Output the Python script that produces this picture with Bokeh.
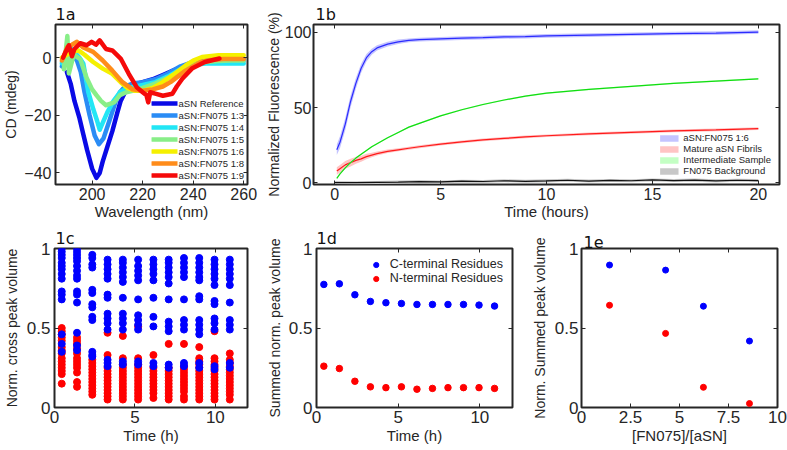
from bokeh.plotting import figure
from bokeh.models import LinearAxis, Legend, LegendItem, FixedTicker, Range1d
from bokeh.layouts import column, row
from bokeh.embed import file_html
from bokeh.resources import INLINE

FONT = "Liberation Sans"
TXT = "#262626"

# ---------------- Panel 1a : CD spectra ----------------
cd_names = ["aSN Reference", "aSN:FN075 1:3", "aSN:FN075 1:4", "aSN:FN075 1:5",
            "aSN:FN075 1:6", "aSN:FN075 1:8", "aSN:FN075 1:9"]
cd_colors = ["#0a0ae6", "#2a8cf5", "#22e6f5", "#88ee88", "#f5f000", "#ff8c1a", "#f50a0a"]
wl_ref = [190, 191.5, 193, 195, 196.5, 198, 200, 201.7, 203, 204.2, 206, 208, 210, 211.3, 213, 215, 218, 220, 224, 228, 232, 236, 240, 245, 250, 255, 260]
cd_ref = [-5, -9, -15, -21, -26.6, -32, -38.5, -41.7, -40, -36, -31, -25.5, -19, -15, -12, -10.5, -9, -8.5, -7.5, -6, -4.5, -3, -2, -1, -0.7, -0.5, -0.5]
wl_13 = [188, 190, 192, 194, 195.5, 197, 199, 201, 202.7, 204.5, 206.8, 209.4, 211, 213, 216, 220, 225, 230, 235, 240, 245, 250, 255, 260]
cd_13 = [-3, 0, 1, -1, -5, -12, -20, -27, -30, -28, -22, -15, -12, -10, -9, -8.5, -7.5, -5.5, -3, -1.5, -1.2, -1, -1, -1]
wl_14 = [188, 189.5, 191, 193, 195, 196.5, 198.5, 200.5, 202, 203, 204, 206, 208.5, 211, 214, 217, 220, 225, 230, 235, 240, 245, 250, 260]
cd_14 = [-2, 2, 4, 2, 0, -2, -12, -18, -22, -25, -23, -19, -15, -12, -10.5, -10, -9.5, -8.5, -6.5, -4, -2.5, -2, -2, -2]
wl_15 = [188.8, 190.2, 190.8, 192.7, 195.3, 197.8, 200, 201.7, 203.5, 205.5, 207, 208.7, 211, 213.5, 216, 220, 225, 230, 235, 240, 245, 250, 255, 260]
cd_15 = [-4, 7.5, -5.5, 1, -0.5, -7, -11, -13, -15, -16.5, -16, -15.5, -13, -12, -11.5, -10.5, -9, -7, -4.5, -2.5, -1.5, -1.2, -1, -1]
wl_16 = [188, 190, 192, 194.6, 197, 200.4, 204.2, 208, 211.3, 214, 217, 220, 224, 228, 232, 237, 240, 243.5, 250, 260]
cd_16 = [0, 1, 2, 2.5, 1, -1.5, -3.8, -5.6, -8.5, -10.5, -11.5, -11.5, -10.5, -8.5, -6, -2.7, -1, 0.2, 0.8, 0.8]
wl_18 = [188, 189, 190.2, 192, 194, 196.5, 200.4, 204.2, 208, 212, 216, 220, 224, 228, 231, 234, 237, 240, 243, 247, 252, 260]
cd_18 = [-1, 1, 3.7, 4.5, 5.5, 3.5, 2, -1, -4.5, -8.5, -11, -11.5, -11, -10, -8.5, -6.5, -4.5, -3, -1.5, -0.8, -0.5, -0.5]
wl_19 = [188.5, 189.5, 190.8, 192, 193, 195.3, 197.8, 199.8, 201.5, 203, 205.5, 208, 211.3, 214.5, 217.7, 220, 221.5, 222.2, 223, 225, 228, 231.8, 233.5, 235.7, 239.5, 244.6, 250.4]
cd_19 = [0, 2, 4.3, 0.5, 3, 5, 4.3, 5.5, 4.5, 6, 3, 2.5, -0.3, -5.6, -10.3, -12, -13, -15.5, -12, -12.5, -13.2, -12.5, -10, -7.3, -3.8, -1.5, -0.3]
cd_x = [wl_ref, wl_13, wl_14, wl_15, wl_16, wl_18, wl_19]
cd_y = [cd_ref, cd_13, cd_14, cd_15, cd_16, cd_18, cd_19]

# ---------------- Panel 1b : fluorescence kinetics ----------------
fl_time = [0.1, 0.25, 0.5, 0.75, 1, 1.25, 1.5, 1.75, 2, 2.5, 3, 3.5, 4, 5, 6, 7, 8, 9, 10, 12, 14, 16, 18, 20]
fl_mix16 = [22, 27, 39, 54, 66, 76, 83, 87, 89.5, 92, 93.5, 94.5, 95, 95.5, 96, 96.3, 96.8, 97, 97.5, 98, 98.5, 99, 99.3, 100]
fl_mix16_err = [3.5, 4, 4, 4, 3.5, 3, 2.5, 2, 1.8, 1.5, 1.5, 1.2, 1.2, 1.2, 1.2, 1.2, 1.2, 1.2, 1.2, 1.2, 1.2, 1.2, 1.2, 1.2]
fl_mature = [8, 9.5, 12, 13.5, 15, 16, 17.5, 18.5, 19.5, 21, 22, 23, 24, 25.8, 27.2, 28.5, 29.5, 30.5, 31.3, 32.5, 33.5, 34.5, 35.2, 36]
fl_mature_err = [2.5, 2.5, 2.5, 2.5, 2.2, 2, 1.8, 1.5, 1.3, 1.2, 1, 1, 1, 0.9, 0.9, 0.9, 0.9, 0.9, 0.9, 0.9, 0.9, 0.9, 0.9, 0.9]
fl_inter = [3, 6, 10, 13.5, 16.5, 19, 21.5, 24, 26, 30, 33.5, 37, 39.5, 44.5, 48.5, 52, 55, 57.5, 59.5, 62, 64, 66, 67.5, 69]
fl_inter_err = [0.5] * 24
bg_time = [0, 1, 2, 3, 4, 5, 6, 7, 8, 9, 10, 11, 12, 13, 14, 15, 16, 17, 18, 19, 20]
bg_vals = [0.3, 0.2, 0.4, 0.6, 0.9, 0.7, 1.2, 1.0, 1.5, 1.1, 1.4, 1.8, 1.3, 1.7, 1.5, 2.0, 1.6, 1.9, 1.4, 1.8, 1.6]
bg_err = [1.0] * 21

# ---------------- Panels 1c-1e ----------------
nmr_time = [0.45, 1.4, 2.35, 3.3, 4.25, 5.2, 6.15, 7.1, 8.05, 9.0, 9.95, 10.9]
c_blue = [
    [1.0, 0.98, 0.96, 0.94, 0.91, 0.89, 0.87, 0.84, 0.81, 0.73, 0.71, 0.68, 0.46, 0.40, 0.35],
    [1.0, 0.98, 0.96, 0.94, 0.92, 0.89, 0.86, 0.83, 0.81, 0.73, 0.71, 0.66, 0.47, 0.39, 0.36],
    [0.96, 0.94, 0.90, 0.88, 0.74, 0.72, 0.65, 0.63, 0.57, 0.55, 0.35, 0.33, 0.32],
    [0.93, 0.90, 0.87, 0.84, 0.81, 0.71, 0.69, 0.59, 0.56, 0.53, 0.49, 0.30, 0.28, 0.26],
    [0.93, 0.91, 0.88, 0.85, 0.82, 0.79, 0.69, 0.59, 0.56, 0.53, 0.49, 0.29, 0.27],
    [0.93, 0.89, 0.86, 0.83, 0.80, 0.68, 0.58, 0.55, 0.52, 0.49, 0.29, 0.27],
    [0.93, 0.90, 0.87, 0.84, 0.80, 0.69, 0.57, 0.51, 0.28, 0.26],
    [0.93, 0.91, 0.88, 0.85, 0.82, 0.78, 0.68, 0.54, 0.51, 0.48, 0.27, 0.25],
    [0.94, 0.91, 0.88, 0.85, 0.82, 0.68, 0.55, 0.52, 0.49, 0.28, 0.26],
    [0.94, 0.91, 0.88, 0.85, 0.82, 0.80, 0.70, 0.68, 0.55, 0.52, 0.49, 0.46, 0.28, 0.25],
    [0.93, 0.90, 0.87, 0.84, 0.81, 0.77, 0.67, 0.65, 0.56, 0.53, 0.49, 0.26, 0.24],
    [0.93, 0.90, 0.87, 0.84, 0.81, 0.77, 0.66, 0.55, 0.52, 0.49, 0.28, 0.25],
]
c_red = [
    [0.50, 0.48, 0.46, 0.44, 0.42, 0.38, 0.36, 0.34, 0.31, 0.29, 0.27, 0.25, 0.23, 0.21, 0.15],
    [0.44, 0.42, 0.40, 0.37, 0.34, 0.31, 0.29, 0.27, 0.25, 0.22, 0.16, 0.13],
    [0.30, 0.28, 0.26, 0.24, 0.22, 0.20, 0.18, 0.16, 0.14, 0.12, 0.10, 0.08],
    [0.47, 0.33, 0.25, 0.23, 0.21, 0.19, 0.17, 0.15, 0.13, 0.11, 0.09, 0.07, 0.05],
    [0.45, 0.31, 0.27, 0.25, 0.23, 0.21, 0.19, 0.17, 0.15, 0.13, 0.11, 0.09, 0.07, 0.05],
    [0.51, 0.31, 0.27, 0.25, 0.23, 0.21, 0.19, 0.17, 0.15, 0.13, 0.11, 0.09, 0.07, 0.05],
    [0.33, 0.25, 0.23, 0.21, 0.19, 0.17, 0.15, 0.13, 0.11, 0.09, 0.06],
    [0.40, 0.25, 0.23, 0.21, 0.19, 0.17, 0.15, 0.13, 0.11, 0.09, 0.07, 0.05],
    [0.40, 0.26, 0.24, 0.22, 0.20, 0.18, 0.16, 0.14, 0.12, 0.10, 0.07, 0.05],
    [0.38, 0.31, 0.29, 0.27, 0.25, 0.23, 0.21, 0.19, 0.17, 0.15, 0.13, 0.11, 0.09, 0.07, 0.05],
    [0.48, 0.31, 0.29, 0.27, 0.25, 0.23, 0.21, 0.19, 0.17, 0.15, 0.13, 0.11, 0.09, 0.07, 0.05],
    [0.34, 0.30, 0.28, 0.26, 0.24, 0.22, 0.20, 0.18, 0.16, 0.14, 0.12, 0.10, 0.08, 0.05],
]
d_cterm = [0.774, 0.778, 0.709, 0.667, 0.659, 0.654, 0.648, 0.648, 0.648, 0.648, 0.644, 0.638]
d_nterm = [0.26, 0.245, 0.165, 0.13, 0.125, 0.13, 0.115, 0.12, 0.125, 0.125, 0.125, 0.12]
e_ratio = [1.43, 4.29, 6.22, 8.57]
e_cterm = [0.896, 0.864, 0.637, 0.418]
e_nterm = [0.643, 0.466, 0.127, 0.025]


def make_fig(title, toff, w, h, xr, yr, bl, br, bt, bb):
    p = figure(width=w, height=h, x_range=Range1d(*xr), y_range=Range1d(*yr),
               output_backend="svg", toolbar_location=None,
               min_border_left=bl, min_border_right=br, min_border_top=bt, min_border_bottom=bb)
    p.title.text = title
    p.title.text_font = "DejaVu Sans"
    p.title.text_font_style = "normal"
    p.title.text_font_size = "16px"
    p.title.text_color = "#111111"
    p.title.align = "left"
    p.title.offset = toff
    p.title.standoff = 1
    return p


def style(p, xticks, yticks, xlabel, ylabel, tick_size, xstand, ystand, xlstand, ylstand,
          xover=None, yover=None):
    p.grid.visible = False
    p.outline_line_color = TXT
    p.outline_line_width = 2
    for ax in (p.xaxis[0], p.yaxis[0]):
        ax.major_tick_in = 4
        ax.major_tick_out = 0
        ax.minor_tick_in = 0
        ax.minor_tick_out = 0
        ax.axis_line_color = None
        ax.major_tick_line_color = TXT
        ax.major_label_text_font = FONT
        ax.major_label_text_font_size = tick_size
        ax.major_label_text_color = TXT
        ax.axis_label_text_font = FONT
        ax.axis_label_text_font_style = "normal"
        ax.axis_label_text_color = TXT
    xa, ya = p.xaxis[0], p.yaxis[0]
    xa.ticker = FixedTicker(ticks=xticks)
    ya.ticker = FixedTicker(ticks=yticks)
    xa.axis_label = xlabel
    ya.axis_label = ylabel
    xa.axis_label_text_font_size = "15px"
    ya.axis_label_text_font_size = "14px"
    xa.major_label_standoff = xstand
    ya.major_label_standoff = ystand
    xa.axis_label_standoff = xlstand
    ya.axis_label_standoff = ylstand
    if xover:
        xa.major_label_overrides = xover
    if yover:
        ya.major_label_overrides = yover
    for loc, ticks in (("above", xticks), ("right", yticks)):
        a = LinearAxis(ticker=FixedTicker(ticks=ticks), major_label_text_font_size="1px",
                       major_label_text_color=None, major_label_standoff=0,
                       major_tick_in=4, major_tick_out=0, minor_tick_in=0, minor_tick_out=0,
                       axis_line_color=None, major_tick_line_color=TXT)
        p.add_layout(a, loc)


TOP_H = 226
BOT_H = 224

# ---- 1a
p1 = make_fig("1a", 0, 262, TOP_H, (185.5, 261.5), (-44, 11.5), 50, 15, 24, 42)
style(p1, [200, 220, 240, 260], [-40, -20, 0], "Wavelength (nm)", "CD (mdeg)", "16px", 3, 4, 0, 2)
items = []
for name, col, xs, ys in zip(cd_names, cd_colors, cd_x, cd_y):
    r = p1.line(xs, ys, line_color=col, line_width=4.5, line_join="round", line_cap="round")
    items.append(LegendItem(label=name, renderers=[r]))
leg1 = Legend(items=items, location="bottom_right", label_text_font=FONT,
              label_text_font_size="9.5px", label_text_color=TXT, label_height=12,
              glyph_height=12, glyph_width=26, spacing=0, padding=0, margin=3,
              label_standoff=1, border_line_alpha=0, background_fill_alpha=0)
p1.add_layout(leg1)

# ---- 1b
p2 = make_fig("1b", 2, 525, TOP_H, (-1, 21), (-1, 105), 51, 8, 24, 42)
style(p2, [0, 5, 10, 15, 20], [0, 50, 100], "Time (hours)", "Normalized Fluorescence (%)", "16px", 3, 2, 0, 0)
series = [
    ("aSN:FN075 1:6", fl_time, fl_mix16, fl_mix16_err, "#2b2bff", "#c4c4ff"),
    ("Mature aSN Fibrils", fl_time, fl_mature, fl_mature_err, "#ff1a1a", "#ffc4c4"),
    ("Intermediate Sample", fl_time, fl_inter, fl_inter_err, "#11dd11", "#c4ffc4"),
    ("FN075 Background", bg_time, bg_vals, bg_err, "#111111", "#c8c8c8"),
]
items2 = []
for name, t, v, e, lc, fc in series:
    lo = [a - b for a, b in zip(v, e)]
    hi = [a + b for a, b in zip(v, e)]
    band = p2.varea(x=t, y1=lo, y2=hi, fill_color=fc, fill_alpha=1.0)
    p2.line(t, v, line_color=lc, line_width=1.2)
    items2.append(LegendItem(label=name, renderers=[band]))
leg2 = Legend(items=items2, location="bottom_right", label_text_font=FONT,
              label_text_font_size="9.5px", label_text_color=TXT, label_height=11,
              glyph_height=8, glyph_width=23, spacing=0, padding=0, margin=8,
              label_standoff=3, border_line_alpha=0, background_fill_alpha=0)
p2.add_layout(leg2)

# ---- 1c
y01 = {0: "0", 0.5: "0.5", 1: "1"}
p3 = make_fig("1c", 1, 263, BOT_H, (0, 12), (0, 1), 49, 16, 21, 43)
style(p3, [0, 5, 10], [0, 0.5, 1], "Time (h)", "Norm. cross peak volume", "17px", 3, 4, 1, 4, yover=y01)
rx, ry, bx, by = [], [], [], []
for t, reds, blues in zip(nmr_time, c_red, c_blue):
    rx += [t] * len(reds)
    ry += reds
    bx += [t] * len(blues)
    by += blues
p3.scatter(rx, ry, size=7, color="#ff0000")
p3.scatter(bx, by, size=7, color="#0000ff")

# ---- 1d
p4 = make_fig("1d", 0, 265, BOT_H, (0, 12), (0, 1), 50, 16, 21, 43)
style(p4, [0, 5, 10], [0, 0.5, 1], "Time (h)", "Summed norm. peak volume", "17px", 3, 4, 1, 3, yover=y01)
rc = p4.scatter(nmr_time, d_cterm, size=6.5, color="#0000ff")
rn = p4.scatter(nmr_time, d_nterm, size=6.5, color="#ff0000")
leg4 = Legend(items=[LegendItem(label="C-terminal Residues", renderers=[rc]),
                     LegendItem(label="N-terminal Residues", renderers=[rn])],
              location="top_right", label_text_font=FONT, label_text_font_size="12.5px",
              label_text_color=TXT, label_height=13, glyph_height=13, glyph_width=20,
              spacing=0, padding=0, margin=9, label_standoff=4,
              border_line_alpha=0, background_fill_alpha=0)
p4.add_layout(leg4)

# ---- 1e
p5 = make_fig("1e", 2, 259, BOT_H, (0, 10), (0, 1), 50, 10, 21, 43)
style(p5, [0, 2.5, 5, 7.5, 10], [0, 0.5, 1], "[FN075]/[aSN]", "Norm. Summed peak volume", "17px", 3, 3, 1, 4,
      xover={0: "0", 2.5: "2.5", 5: "5", 7.5: "7.5", 10: "10"}, yover=y01)
p5.scatter(e_ratio, e_cterm, size=6, color="#0000ff")
p5.scatter(e_ratio, e_nterm, size=6, color="#ff0000")

layout = column(row(p1, p2), row(p3, p4, p5))
open("out.html", "w").write(file_html(layout, INLINE))
